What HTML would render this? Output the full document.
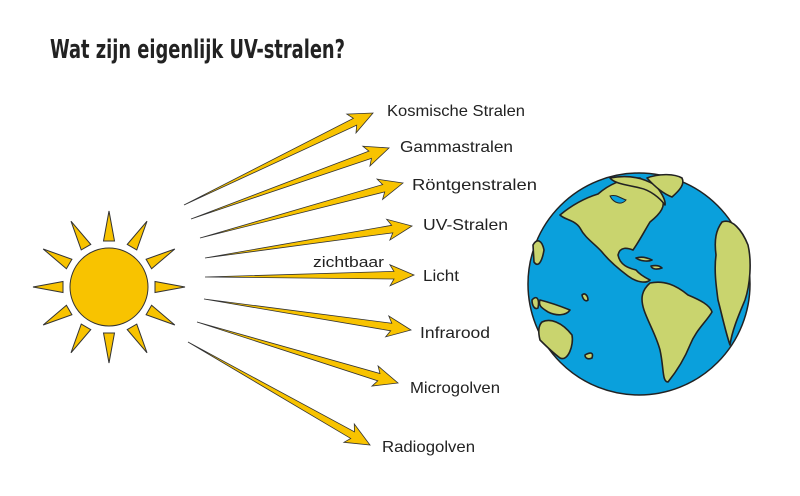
<!DOCTYPE html>
<html><head><meta charset="utf-8"><style>
html,body{margin:0;padding:0;background:#fff;}
svg{display:block;}
text{font-family:"Liberation Sans",sans-serif;fill:#222;}
</style></head><body>
<svg id="s" width="800" height="496" viewBox="0 0 800 496" xmlns="http://www.w3.org/2000/svg">
<rect width="800" height="496" fill="#fff"/>
<text x="50" y="58" font-size="26" font-weight="bold" textLength="295" lengthAdjust="spacingAndGlyphs" style="font-family:'DejaVu Sans Condensed','Liberation Sans',sans-serif" fill="#1a1a1a">Wat zijn eigenlijk UV-stralen?</text>

<g id="sun" fill="#f8c300" stroke="#333" stroke-width="1"></g>
<g id="arrows" fill="#f8c300" stroke="#333" stroke-width="0.8"></g>

<g font-size="16">
<text x="387" y="116" textLength="138" lengthAdjust="spacingAndGlyphs">Kosmische Stralen</text>
<text x="400" y="152" textLength="113" lengthAdjust="spacingAndGlyphs">Gammastralen</text>
<text x="412" y="190" textLength="125" lengthAdjust="spacingAndGlyphs">Röntgenstralen</text>
<text x="423" y="230" textLength="85" lengthAdjust="spacingAndGlyphs">UV-Stralen</text>
<text x="423" y="281" textLength="36" lengthAdjust="spacingAndGlyphs">Licht</text>
<text x="420" y="338" textLength="70" lengthAdjust="spacingAndGlyphs">Infrarood</text>
<text x="410" y="393" textLength="90" lengthAdjust="spacingAndGlyphs">Microgolven</text>
<text x="382" y="452" textLength="93" lengthAdjust="spacingAndGlyphs">Radiogolven</text>
<text x="313" y="267" font-size="15" textLength="71" lengthAdjust="spacingAndGlyphs">zichtbaar</text>
</g>

<g>
<circle cx="639" cy="284" r="111" fill="#0aa0dc" stroke="#222" stroke-width="1.5"/>
<g fill="#c9d46e" stroke="#222" stroke-width="1.6" stroke-linejoin="round">
<path d="M560,215 C572,205 585,198 598,194 C606,187 620,178 640,178 C648,184 654,190 660,196 C668,205 660,214 650,222 C645,230 640,240 633,250 C628,248 620,246 618,255 C620,265 628,268 636,270 C640,275 646,278 650,280 C646,284 636,282 628,276 C620,270 610,262 602,252 C595,244 585,238 580,228 C575,220 565,220 560,215 Z"/>
<path d="M610,178 C625,175 640,176 655,185 C660,190 666,200 665,205 C660,198 650,190 640,188 C628,185 615,184 610,178 Z"/>
<path d="M647,178 C660,173 675,174 682,178 C685,184 680,190 672,197 C664,194 656,188 647,178 Z"/>
<path d="M650,283 C664,280 676,285 688,295 C700,300 710,305 712,312 C706,322 696,330 690,345 C684,360 676,372 668,382 C662,382 664,368 660,350 C656,335 648,322 644,310 C640,298 642,290 650,283 Z"/>
<path d="M722,222 C732,218 742,230 748,245 C752,262 750,285 745,300 C740,312 732,330 730,345 C725,330 722,315 718,300 C716,285 714,270 716,255 C714,240 716,230 722,222 Z"/>
<path d="M636,258 C642,256 648,258 652,260 C648,262 640,261 636,258 Z"/>
<path d="M651,266 C656,265 660,266 662,268 C656,270 652,269 651,266 Z"/>
<path d="M533,245 C537,238 542,240 544,250 C542,262 538,268 534,262 Z"/>
<path d="M540,300 C548,302 560,306 570,310 C566,316 556,316 548,312 C542,308 538,306 540,300 Z"/>
<path d="M542,322 C550,318 562,322 572,335 C574,345 568,362 560,358 C552,352 545,345 540,340 C538,332 538,326 542,322 Z"/>
<path d="M532,300 C536,295 540,298 538,308 C535,310 532,306 532,300 Z"/>
<path d="M585,355 C590,352 594,352 592,358 C588,360 585,358 585,355 Z"/>
<path d="M582,295 C585,292 588,296 588,300 C586,302 583,300 582,295 Z"/>
</g>
<path d="M610,196 C616,194 620,198 626,200 C622,205 614,204 610,196 Z" fill="#0aa0dc" stroke="#222" stroke-width="1"/>
</g>
</svg>
<script>
var NS="http://www.w3.org/2000/svg";
var sun=document.getElementById("sun");
var cx=109,cy=287;
var c=document.createElementNS(NS,"circle");c.setAttribute("cx",cx);c.setAttribute("cy",cy);c.setAttribute("r",39);sun.appendChild(c);
for(var i=0;i<12;i++){var a=i*Math.PI/6;var r1=46,r2=76,w=5.5;
var ux=Math.cos(a),uy=Math.sin(a),nx=-uy,ny=ux;
var p=[[cx+ux*r1+nx*w,cy+uy*r1+ny*w],[cx+ux*r1-nx*w,cy+uy*r1-ny*w],[cx+ux*r2,cy+uy*r2]];
var pg=document.createElementNS(NS,"polygon");pg.setAttribute("points",p.map(function(q){return q.join(",")}).join(" "));sun.appendChild(pg);}
var A=[[184,205,373,113],[191,219,389,148],[200,238,403,183],[205,258,412,226],[205,277,414,275],[204,299,411,330],[197,322,398,383],[188,342,370,445]];
var g=document.getElementById("arrows");
A.forEach(function(a){var dx=a[2]-a[0],dy=a[3]-a[1],L=Math.hypot(dx,dy),ux=dx/L,uy=dy/L,nx=-uy,ny=ux;
var hb=L-20,sw=3.8,hw=10.5;
function P(t,o){return [a[0]+ux*t+nx*o,a[1]+uy*t+ny*o];}
var pts=[P(0,0),P(hb,-sw),P(hb-4,-hw),P(L,0),P(hb-4,hw),P(hb,sw)];
var pg=document.createElementNS(NS,"polygon");pg.setAttribute("points",pts.map(function(q){return q.join(",")}).join(" "));g.appendChild(pg);});
</script>
</body></html>
